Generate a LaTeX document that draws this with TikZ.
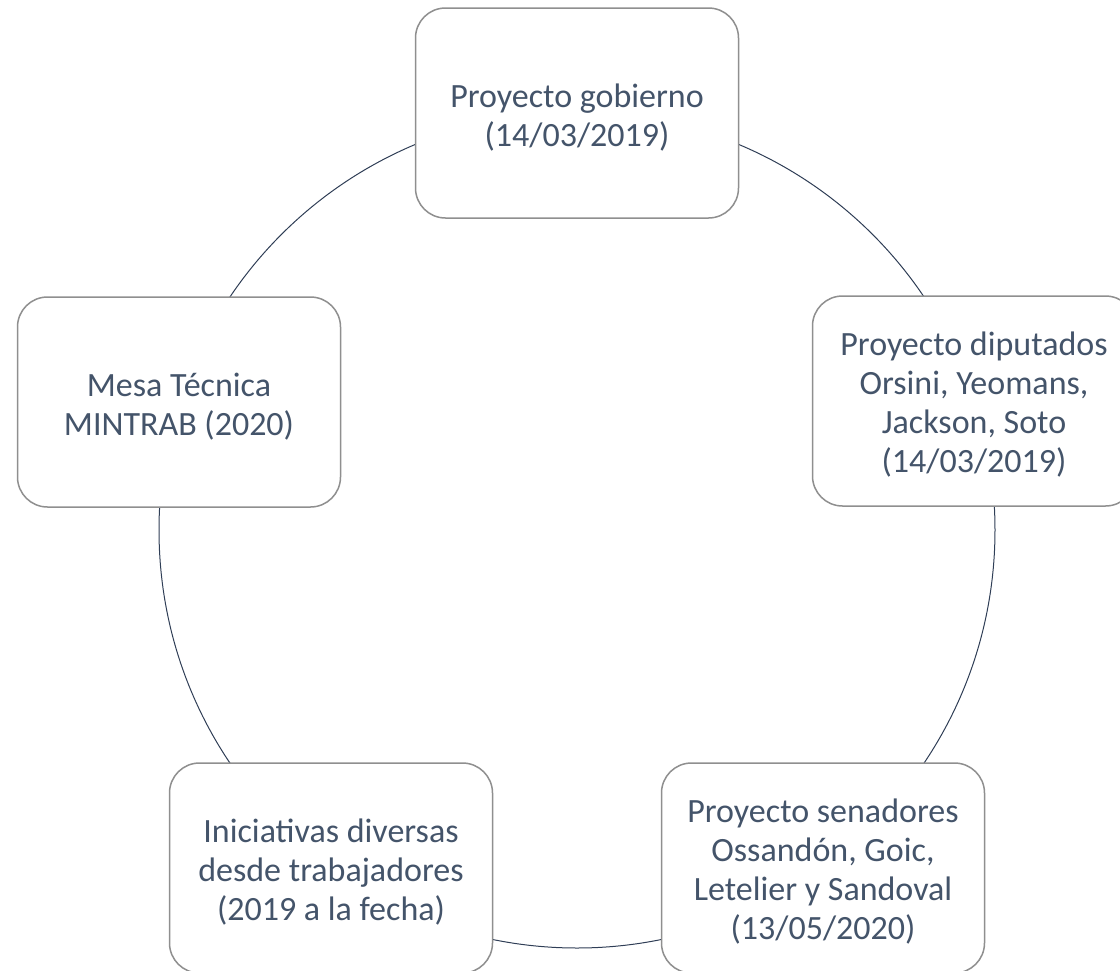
\documentclass[tikz,border=0pt]{standalone}
\usepackage{fontspec}
\setmainfont{Carlito}
\definecolor{txt}{HTML}{44546A}
\definecolor{ring}{HTML}{2F3E56}
\definecolor{boxline}{HTML}{8F8F8F}
\begin{document}
\begin{tikzpicture}[x=1pt,y=-1pt,
  stepbox/.style={draw=boxline, line width=1.5pt, fill=white, rounded corners=30pt,
    minimum width=323pt, minimum height=210pt, inner sep=0pt},
  steptext/.style={align=center, text=txt,
    font=\fontsize{34}{39}\selectfont, inner sep=0pt},
  ringline/.style={draw=ring, line width=1pt}]
\useasboundingbox (0,0) rectangle (1120,970);
\coordinate (c) at (577,530);
\draw[ringline] (c) circle[radius=418];
\node[stepbox] (top) at (577,113) {};
\node[stepbox] (right) at (974,401) {};
\node[stepbox] (bright) at (823,868) {};
\node[stepbox] (bleft) at (331,868) {};
\node[stepbox] (left) at (179,402) {};
\node[steptext] (top-t) at ([yshift=-5pt]top.center) {Proyecto gobierno\\(14/03/2019)};
\node[steptext] (right-t) at ([yshift=-4pt]right.center) {Proyecto diputados\\Orsini, Yeomans,\\Jackson, Soto\\(14/03/2019)};
\node[steptext] (bright-t) at ([yshift=-4pt]bright.center) {Proyecto senadores\\Ossandón, Goic,\\Letelier y Sandoval\\(13/05/2020)};
\node[steptext] (bleft-t) at ([yshift=-4pt]bleft.center) {Iniciativas diversas\\desde trabajadores\\(2019 a la fecha)};
\node[steptext] (left-t) at ([yshift=-5pt]left.center) {Mesa Técnica\\MINTRAB (2020)};
\end{tikzpicture}
\end{document}
